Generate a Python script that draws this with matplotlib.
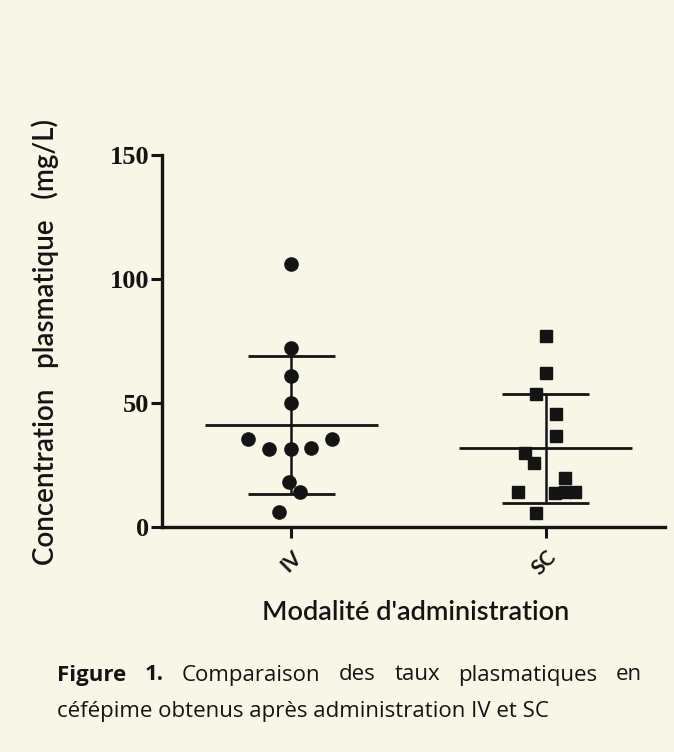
import numpy as np
import matplotlib
matplotlib.use("Agg")
import matplotlib.pyplot as plt

categories = ["IV", "SC"]
iv_values = [106, 72, 61, 50, 35.5, 31.5, 31.5, 32, 35.5, 18, 14, 6]
iv_offsets = [0, 0, 0, 0, -0.17, -0.09, 0, 0.075, 0.16, -0.01, 0.035, -0.05]
sc_values = [77, 62, 53.6, 45.6, 36.7, 30, 26, 20, 14, 13.7, 14, 14, 5.6]
sc_offsets = [0, 0, -0.04, 0.04, 0.04, -0.08, -0.045, 0.075, -0.11, 0.035, 0.115, 0.075, -0.04]
yticks = [0, 50, 100, 150]

bg = "#f8f6e7"
ink = "#141414"

fig = plt.figure(figsize=(6.74, 7.52), dpi=100, facecolor=bg)
ax = fig.add_axes([0.240, 0.299, 0.747, 0.495], facecolor=bg)

xs = [1, 2]
groups = [iv_values, sc_values]
offs = [iv_offsets, sc_offsets]
markers = ["o", "s"]
msizes = [9.5, 8.5]
for x, vals, off, m, ms in zip(xs, groups, offs, markers, msizes):
    vals = np.asarray(vals, float)
    ax.plot(x + np.asarray(off), vals, linestyle="none", marker=m, ms=ms,
            color=ink, zorder=3)
    mean = vals.mean()
    sd = vals.std(ddof=1)
    ax.hlines(mean, x - 0.34, x + 0.34, color=ink, lw=2.0, zorder=2)
    ax.hlines([mean - sd, mean + sd], x - 0.17, x + 0.17, color=ink, lw=2.0, zorder=2)
    ax.vlines(x, mean - sd, mean + sd, color=ink, lw=1.8, zorder=2)

ax.set_xlim(0.49, 2.47)
ax.set_ylim(0, 150)
ax.set_yticks(yticks)
ax.set_yticklabels([str(t) for t in yticks], fontfamily="Liberation Serif",
                   fontweight="bold", fontsize=19, color=ink)
ax.set_xticks(xs)
ax.set_xticklabels(categories, rotation=45, ha="right", va="top",
                   rotation_mode="anchor", fontfamily="Lato", fontweight="bold",
                   fontsize=15, color=ink)
for s in ["top", "right"]:
    ax.spines[s].set_visible(False)
for s in ["left", "bottom"]:
    ax.spines[s].set_linewidth(2.4)
    ax.spines[s].set_color(ink)
ax.tick_params(axis="both", direction="out", length=8, width=2.2, color=ink)
ax.tick_params(axis="y", pad=1)
ax.tick_params(axis="x", pad=6)

ax.set_ylabel("Concentration   plasmatique   (mg/L)", fontfamily="Lato",
              fontweight="semibold", fontsize=20, color=ink)
ax.yaxis.set_label_coords(-0.205, 0.497)

fig.text(416 / 674, 1 - 612 / 752, "Modalité d'administration", fontfamily="Lato",
         fontweight="semibold", fontsize=19.5, color=ink, ha="center", va="center")

# caption (justified first line)
words1 = [("Figure", "bold"), ("1.", "bold"), ("Comparaison", "normal"),
          ("des", "normal"), ("taux", "normal"), ("plasmatiques", "normal"),
          ("en", "normal")]
cap_size = 16
x_left, x_right = 57, 642
texts = []
for w, wt in words1:
    t = fig.text(0, 1 - 675 / 752, w, fontfamily="Open Sans", fontweight=wt,
                 fontsize=cap_size, color=ink, ha="left", va="center")
    texts.append(t)
fig.canvas.draw()
r = fig.canvas.get_renderer()
widths = [t.get_window_extent(r).width for t in texts]
gap = (x_right - x_left - sum(widths)) / (len(widths) - 1)
cur = x_left
for t, wd in zip(texts, widths):
    t.set_x(cur / 674)
    cur += wd + gap
fig.text(x_left / 674, 1 - 711 / 752, "céfépime obtenus après administration IV et SC",
         fontfamily="Open Sans", fontsize=cap_size, color=ink, ha="left", va="center")

fig.savefig("out.png", dpi=100, facecolor=bg)
